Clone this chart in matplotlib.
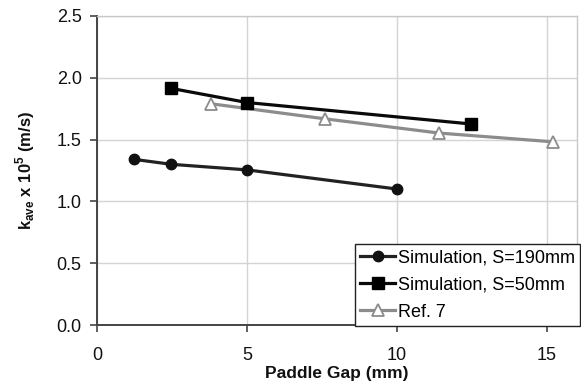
import matplotlib
matplotlib.use("Agg")
import matplotlib.pyplot as plt

plt.rcParams['font.family'] = ['Liberation Sans', 'DejaVu Sans']
plt.rcParams['mathtext.fontset'] = 'custom'
plt.rcParams['mathtext.rm'] = 'Liberation Sans'
plt.rcParams['mathtext.bf'] = 'Liberation Sans:bold'

# Average permeability vs paddle gap
gap_s190 = [1.24, 2.48, 5.0, 10.0]
k_s190 = [1.34, 1.30, 1.255, 1.10]

gap_s50 = [2.46, 5.0, 12.48]
k_s50 = [1.915, 1.80, 1.626]

gap_ref7 = [3.8, 7.6, 11.4, 15.2]
k_ref7 = [1.79, 1.668, 1.553, 1.482]

labels = ["Simulation, S=190mm", "Simulation, S=50mm", "Ref. 7"]
x_ticks = [0, 5, 10, 15]
y_ticks = [0.0, 0.5, 1.0, 1.5, 2.0, 2.5]

fig = plt.figure(figsize=(5.81, 3.87), dpi=100)
ax = fig.add_axes([97 / 581, 1 - 325 / 387, 480 / 581, 309 / 387])

ax.plot(gap_s190, k_s190, color='#222222', lw=2.3, marker='o', ms=7.5,
        mfc='#111111', mec='#111111', label=labels[0], zorder=4)
ax.plot(gap_s50, k_s50, color='#0a0a0a', lw=2.3, marker='s', ms=8,
        mfc='#000000', mec='#000000', label=labels[1], zorder=5)
ax.plot(gap_ref7, k_ref7, color='#8c8c8c', lw=2.3, marker='^', ms=9,
        mfc='white', mec='#8c8c8c', mew=1.3, label=labels[2], zorder=3)

ax.set_xlim(0, 16)
ax.set_ylim(0, 2.5)
ax.set_xticks(x_ticks)
ax.set_yticks(y_ticks)
ax.set_yticklabels([f"{v:.1f}" for v in y_ticks])
ax.grid(True, color='#d4d4d4', lw=1.0)
ax.set_axisbelow(True)

for side in ('top', 'right'):
    ax.spines[side].set_color('#c8c8c8')
    ax.spines[side].set_linewidth(1.0)
for side in ('left', 'bottom'):
    ax.spines[side].set_color('#444444')
    ax.spines[side].set_linewidth(1.4)

ax.tick_params(axis='both', direction='out', length=5, width=1.2,
               color='#444444', labelsize=13, labelcolor='#111111')
ax.tick_params(axis='x', pad=11)
ax.tick_params(axis='y', pad=6)

ax.set_xlabel("Paddle Gap (mm)", fontsize=12.5, fontweight='bold',
              labelpad=1, color='#111111')
ax.set_ylabel(r"$\mathbf{k}_{\mathbf{ave}}$ x 10$^{\mathbf{5}}$ (m/s)",
              fontsize=12, fontweight='bold', color='#111111', labelpad=14)

leg = fig.legend(loc='lower left',
                 bbox_to_anchor=(355 / 581, 1 - 326 / 387, 225 / 581, 86 / 387),
                 mode='expand', fontsize=13, frameon=True, fancybox=False,
                 edgecolor='#222222', framealpha=1, handlelength=1.9,
                 handletextpad=0.2, borderpad=0.3, labelspacing=0.55,
                 borderaxespad=0)
leg.get_frame().set_linewidth(1.0)

fig.savefig("out.png", dpi=100)
